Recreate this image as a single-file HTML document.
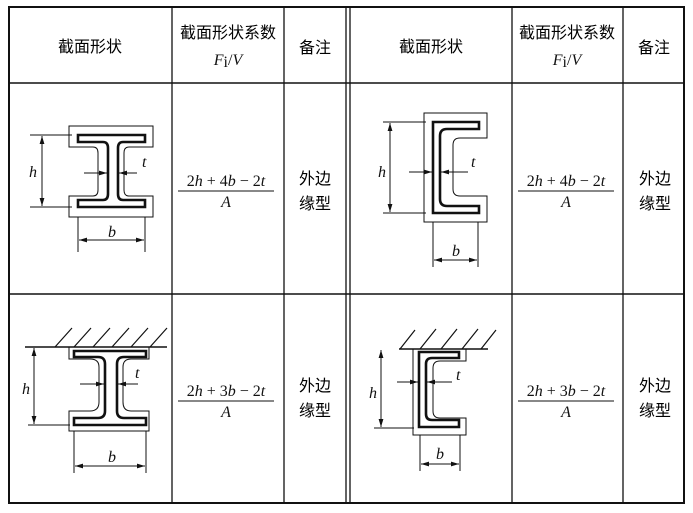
<!DOCTYPE html>
<html><head><meta charset="utf-8"><style>
html,body{margin:0;padding:0;background:#fff;}
svg{display:block;}
.cn{font-family:"Liberation Sans","Noto Sans CJK SC",sans-serif;font-size:16px;fill:#000;}
.m{font-family:"Liberation Serif",serif;font-style:italic;font-size:16px;fill:#111;}
.mr{font-family:"Liberation Serif",serif;font-size:16px;fill:#111;}
.f{font-family:"Liberation Serif",serif;font-size:16px;fill:#111;}
.f tspan.i{font-style:italic;}
</style></head><body>
<svg width="693" height="513" viewBox="0 0 693 513" xmlns="http://www.w3.org/2000/svg">
<defs>
<marker id="a" viewBox="0 0 10 10" refX="10" refY="5" markerWidth="8" markerHeight="8" orient="auto-start-reverse"><path d="M0,2 L10,5 L0,8 Z" fill="#111"/></marker>
</defs>
<g stroke="#111" fill="none">
<rect x="9" y="7" width="675" height="496" stroke-width="2"/>
<line x1="172" y1="7" x2="172" y2="503" stroke-width="1.3"/>
<line x1="284" y1="7" x2="284" y2="503" stroke-width="1.3"/>
<line x1="346" y1="7" x2="346" y2="503" stroke-width="1.3"/>
<line x1="350" y1="7" x2="350" y2="503" stroke-width="1.3"/>
<line x1="512" y1="7" x2="512" y2="503" stroke-width="1.3"/>
<line x1="623" y1="7" x2="623" y2="503" stroke-width="1.3"/>
<line x1="9" y1="83" x2="684" y2="83" stroke-width="1.5"/>
<line x1="9" y1="294" x2="684" y2="294" stroke-width="1.5"/>
</g>
<text class="cn" x="90" y="52" text-anchor="middle">截面形状</text>
<text class="cn" x="228" y="38" text-anchor="middle">截面形状系数</text>
<text x="228" y="65" text-anchor="middle"><tspan class="m">F</tspan><tspan class="mr" font-size="11" dy="2">i</tspan><tspan class="mr" dy="-2">/</tspan><tspan class="m">V</tspan></text>
<text class="cn" x="315" y="53" text-anchor="middle">备注</text>
<text class="cn" x="431" y="52" text-anchor="middle">截面形状</text>
<text class="cn" x="567" y="38" text-anchor="middle">截面形状系数</text>
<text x="567" y="65" text-anchor="middle"><tspan class="m">F</tspan><tspan class="mr" font-size="11" dy="2">i</tspan><tspan class="mr" dy="-2">/</tspan><tspan class="m">V</tspan></text>
<text class="cn" x="654" y="53" text-anchor="middle">备注</text>
<g>
<text class="f" x="226" y="186" text-anchor="middle">2<tspan class="i">h</tspan> + 4<tspan class="i">b</tspan> − 2<tspan class="i">t</tspan></text>
<line x1="178" y1="191" x2="274" y2="191" stroke="#111" stroke-width="1"/>
<text class="m" x="226" y="207" text-anchor="middle">A</text>
<text class="f" x="566" y="186" text-anchor="middle">2<tspan class="i">h</tspan> + 4<tspan class="i">b</tspan> − 2<tspan class="i">t</tspan></text>
<line x1="518" y1="191" x2="614" y2="191" stroke="#111" stroke-width="1"/>
<text class="m" x="566" y="207" text-anchor="middle">A</text>
<text class="f" x="226" y="396" text-anchor="middle">2<tspan class="i">h</tspan> + 3<tspan class="i">b</tspan> − 2<tspan class="i">t</tspan></text>
<line x1="178" y1="401" x2="274" y2="401" stroke="#111" stroke-width="1"/>
<text class="m" x="226" y="417" text-anchor="middle">A</text>
<text class="f" x="566" y="396" text-anchor="middle">2<tspan class="i">h</tspan> + 3<tspan class="i">b</tspan> − 2<tspan class="i">t</tspan></text>
<line x1="518" y1="401" x2="614" y2="401" stroke="#111" stroke-width="1"/>
<text class="m" x="566" y="417" text-anchor="middle">A</text>
</g>
<text class="cn" x="315" y="184" text-anchor="middle">外边</text>
<text class="cn" x="315" y="209" text-anchor="middle">缘型</text>
<text class="cn" x="655" y="184" text-anchor="middle">外边</text>
<text class="cn" x="655" y="209" text-anchor="middle">缘型</text>
<text class="cn" x="315" y="391" text-anchor="middle">外边</text>
<text class="cn" x="315" y="416" text-anchor="middle">缘型</text>
<text class="cn" x="655" y="391" text-anchor="middle">外边</text>
<text class="cn" x="655" y="416" text-anchor="middle">缘型</text>

<g fill="none" stroke="#111">
<path d="M69,126 H153 V147 H129 Q124,147 124,153 V190 Q124,196 129,196 H153 V217 H69 V196 H93 Q98,196 98,190 V153 Q98,147 93,147 H69 Z" stroke-width="1"/>
<path d="M78,135 H145 V142 H123 Q118,142 118,148 V194 Q118,200 123,200 H145 V207 H78 V200 H103 Q108,200 108,194 V148 Q108,142 103,142 H78 Z" stroke-width="2.6"/>
<line x1="30" y1="135" x2="72" y2="135" stroke-width="1"/>
<line x1="30" y1="207" x2="72" y2="207" stroke-width="1"/>
<line x1="42" y1="136" x2="42" y2="206" stroke-width="1" marker-start="url(#a)" marker-end="url(#a)"/>
<line x1="84" y1="173" x2="107" y2="173" stroke-width="1" marker-end="url(#a)"/>
<line x1="137" y1="173" x2="119" y2="173" stroke-width="1" marker-end="url(#a)"/>
<line x1="78" y1="217" x2="78" y2="252" stroke-width="1"/>
<line x1="145" y1="217" x2="145" y2="252" stroke-width="1"/>
<line x1="79" y1="240" x2="144" y2="240" stroke-width="1" marker-start="url(#a)" marker-end="url(#a)"/>
<path d="M424,113 H487 V138 H460 Q453,138 453,145 V189 Q453,196 460,196 H487 V222 H424 Z" stroke-width="1"/>
<path d="M433,122 H479 V129 H447 Q440,129 440,136 V199 Q440,206 447,206 H479 V213 H433 Z" stroke-width="2.6"/>
<line x1="383" y1="122" x2="426" y2="122" stroke-width="1"/>
<line x1="383" y1="213" x2="426" y2="213" stroke-width="1"/>
<line x1="390" y1="123" x2="390" y2="212" stroke-width="1" marker-start="url(#a)" marker-end="url(#a)"/>
<line x1="409" y1="172" x2="432" y2="172" stroke-width="1" marker-end="url(#a)"/>
<line x1="468" y1="172" x2="441" y2="172" stroke-width="1" marker-end="url(#a)"/>
<line x1="433" y1="222" x2="433" y2="267" stroke-width="1"/>
<line x1="478" y1="222" x2="478" y2="267" stroke-width="1"/>
<line x1="434" y1="260" x2="477" y2="260" stroke-width="1" marker-start="url(#a)" marker-end="url(#a)"/>
<line x1="25" y1="347" x2="167" y2="347" stroke-width="1.5"/>
<path d="M55,347 L72,328 M74,347 L91,328 M93,347 L110,328 M112,347 L129,328 M131,347 L148,328 M150,347 L167,328" stroke-width="1.2"/>
<path d="M69,347 H149 V359 H131 Q123,359 123,367 V402 Q123,411 131,411 H149 V431 H69 V411 H90 Q99,411 99,402 V367 Q99,359 90,359 H69 Z" stroke-width="1"/>
<path d="M74,351 H146 V357 H124 Q117,357 117,364 V411 Q117,418 124,418 H146 V425 H74 V418 H98 Q105,418 105,411 V364 Q105,357 98,357 H74 Z" stroke-width="2.6"/>
<line x1="28" y1="425" x2="70" y2="425" stroke-width="1"/>
<line x1="34" y1="348" x2="34" y2="424" stroke-width="1" marker-start="url(#a)" marker-end="url(#a)"/>
<line x1="80" y1="384" x2="104" y2="384" stroke-width="1" marker-end="url(#a)"/>
<line x1="138" y1="384" x2="118" y2="384" stroke-width="1" marker-end="url(#a)"/>
<line x1="74" y1="431" x2="74" y2="473" stroke-width="1"/>
<line x1="146" y1="431" x2="146" y2="473" stroke-width="1"/>
<line x1="75" y1="466" x2="145" y2="466" stroke-width="1" marker-start="url(#a)" marker-end="url(#a)"/>
<line x1="399" y1="349" x2="488" y2="349" stroke-width="1.5"/>
<path d="M400,349 L415,330 M420,349 L436,329 M441,349 L457,329 M462,349 L478,329 M481,349 L496,330" stroke-width="1.2"/>
<path d="M413,349 H466 V361 H440 Q433,361 433,368 V411 Q433,418 440,418 H466 V435 H413 Z" stroke-width="1"/>
<path d="M419,352 H459 V358 H432 Q426,358 426,364 V414 Q426,420 432,420 H459 V427 H419 Z" stroke-width="2.6"/>
<line x1="374" y1="428" x2="414" y2="428" stroke-width="1"/>
<line x1="381" y1="350" x2="381" y2="427" stroke-width="1" marker-start="url(#a)" marker-end="url(#a)"/>
<line x1="397" y1="382" x2="418" y2="382" stroke-width="1" marker-end="url(#a)"/>
<line x1="452" y1="382" x2="427" y2="382" stroke-width="1" marker-end="url(#a)"/>
<line x1="420" y1="435" x2="420" y2="471" stroke-width="1"/>
<line x1="460" y1="435" x2="460" y2="471" stroke-width="1"/>
<line x1="421" y1="464" x2="459" y2="464" stroke-width="1" marker-start="url(#a)" marker-end="url(#a)"/>
</g>
<text class="m" x="37" y="177" text-anchor="end">h</text>
<text class="m" x="142" y="167">t</text>
<text class="m" x="112" y="237" text-anchor="middle">b</text>
<text class="m" x="386" y="177" text-anchor="end">h</text>
<text class="m" x="471" y="167">t</text>
<text class="m" x="456" y="256" text-anchor="middle">b</text>
<text class="m" x="30" y="394" text-anchor="end">h</text>
<text class="m" x="135" y="378">t</text>
<text class="m" x="112" y="462" text-anchor="middle">b</text>
<text class="m" x="377" y="398" text-anchor="end">h</text>
<text class="m" x="456" y="380">t</text>
<text class="m" x="440" y="459" text-anchor="middle">b</text>
</svg>
</body></html>
